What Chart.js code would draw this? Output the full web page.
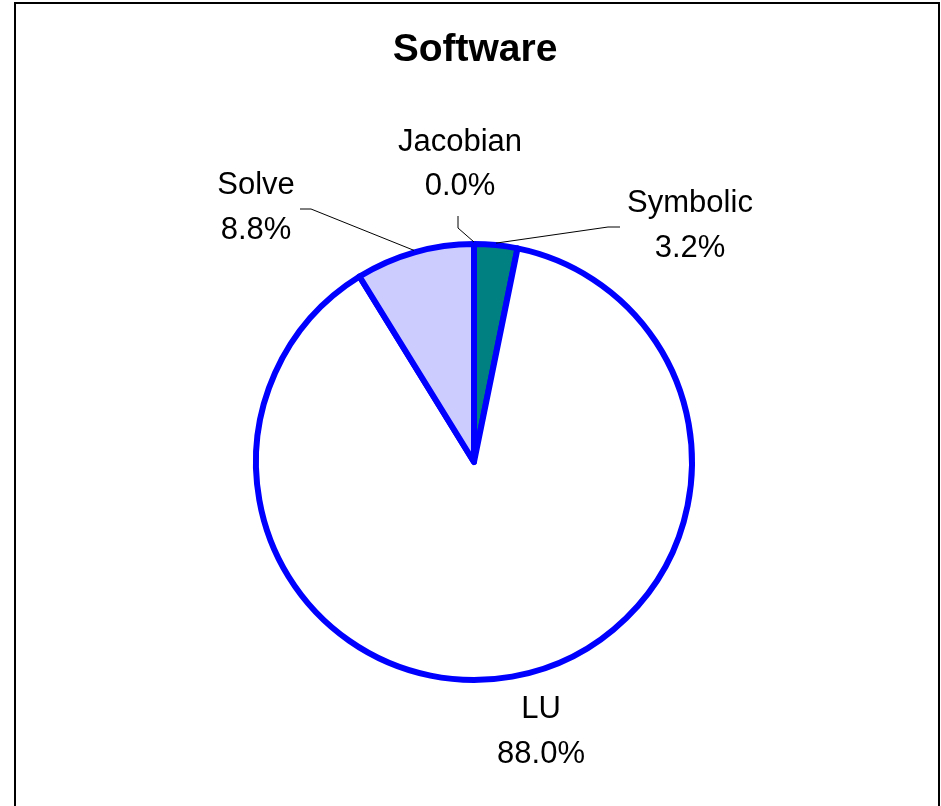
<!DOCTYPE html>
<html lang="en">
<head>
    <meta charset="UTF-8">
    <title>Software</title>
    <style>
        * {
            padding: 0;
            margin: 0;
        }
        body {
            background: white;
            font-family: 'Liberation Sans', Arial, sans-serif;
        }
        #wrap {
            width: 941px;
            height: 806px;
        }
    </style>
</head>
<body>
    <div id="wrap">
        <canvas id="softwareChart" width="941" height="806"></canvas>
    </div>

    <script src="https://cdn.jsdelivr.net/npm/chart.js"></script>
    <script>
        // data (percent of run time)
        const categories = ['Jacobian', 'Symbolic', 'LU', 'Solve'];
        const shares = [0.0, 3.2, 88.0, 8.8];
        const sliceColors = ['#008080', '#008080', '#FFFFFF', '#CCCCFF'];

        // where each data label sits (text centre x, first / second baseline)
        // and the elbow of its leader line, null = no leader
        const labelLayout = [
            { x: 460, y1: 151, y2: 195, leader: [[458, 216], [458, 228]] },
            { x: 690, y1: 212, y2: 257, leader: [[620, 227], [608, 227]] },
            { x: 541, y1: 718, y2: 763, leader: null },
            { x: 256, y1: 194, y2: 239, leader: [[300, 209], [311, 209]] }
        ];

        // title, frame, labels and leader lines
        const excelLook = {
            id: 'excelLook',
            afterDraw(chart) {
                const ctx = chart.ctx;
                ctx.save();

                // outer frame
                ctx.strokeStyle = '#000';
                ctx.lineWidth = 2;
                ctx.strokeRect(15, 3, 924, 820);

                // title
                ctx.fillStyle = '#000';
                ctx.textAlign = 'center';
                ctx.textBaseline = 'alphabetic';
                ctx.font = 'bold 39px "Liberation Sans", Arial, sans-serif';
                ctx.fillText('Software', 475, 61);

                const arcs = chart.getDatasetMeta(0).data;
                ctx.font = '31px "Liberation Sans", Arial, sans-serif';
                arcs.forEach((arc, i) => {
                    const lay = labelLayout[i];
                    ctx.fillStyle = '#000';
                    ctx.fillText(categories[i], lay.x, lay.y1);
                    ctx.fillText(shares[i].toFixed(1) + '%', lay.x, lay.y2);

                    if (lay.leader) {
                        const p = arc.getProps(['x', 'y', 'startAngle', 'endAngle', 'outerRadius'], true);
                        const mid = (p.startAngle + p.endAngle) / 2;
                        const r = p.outerRadius + 2;
                        const ex = p.x + Math.cos(mid) * r;
                        const ey = p.y + Math.sin(mid) * r;
                        ctx.strokeStyle = '#000';
                        ctx.lineWidth = 1;
                        ctx.beginPath();
                        ctx.moveTo(lay.leader[0][0], lay.leader[0][1]);
                        ctx.lineTo(lay.leader[1][0], lay.leader[1][1]);
                        ctx.lineTo(ex, ey);
                        ctx.stroke();
                    }
                });
                ctx.restore();
            }
        };

        const ctx1 = document.getElementById('softwareChart').getContext('2d');
        const softwareChart = new Chart(ctx1, {
            type: 'pie',
            data: {
                labels: categories,
                datasets: [{
                    data: shares,
                    backgroundColor: sliceColors,
                    borderColor: '#0000FF',
                    borderWidth: 6,
                    borderJoinStyle: 'round'
                }]
            },
            options: {
                responsive: false,
                animation: false,
                devicePixelRatio: 1,
                radius: 218,
                layout: {
                    padding: { left: 250, right: 243, top: 238, bottom: 120 }
                },
                plugins: {
                    legend: { display: false },
                    title: { display: false },
                    tooltip: { enabled: false }
                }
            },
            plugins: [excelLook]
        });
    </script>
</body>
</html>
